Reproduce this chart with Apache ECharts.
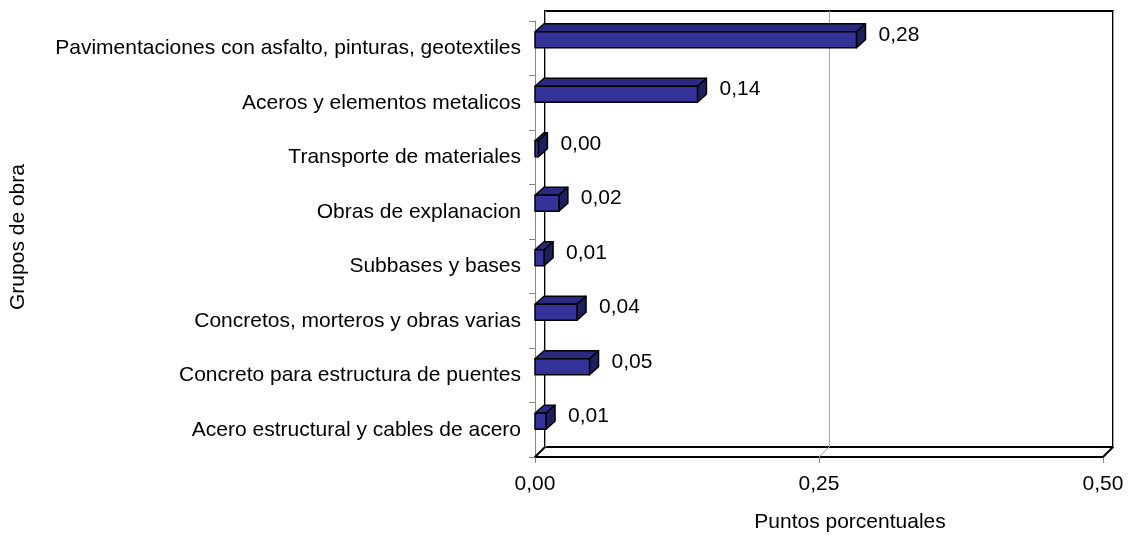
<!DOCTYPE html>
<html>
<head>
<meta charset="utf-8">
<script src="https://cdn.jsdelivr.net/npm/echarts@6/dist/echarts.min.js"></script>
<style>
html,body{margin:0;padding:0;background:#fff;}
#c{width:1130px;height:536px;}
</style>
</head>
<body>
<div id="c"></div>
<script>
const categories = [
  'Pavimentaciones con asfalto, pinturas, geotextiles',
  'Aceros y elementos metalicos',
  'Transporte de materiales',
  'Obras de explanacion',
  'Subbases y bases',
  'Concretos, morteros y obras varias',
  'Concreto para estructura de puentes',
  'Acero estructural y cables de acero'
];
const values = [0.283, 0.143, 0.003, 0.021, 0.008, 0.037, 0.048, 0.0097];
const xTicks = [0, 0.25, 0.5];

const FONT = '"Liberation Sans", Arial, sans-serif';
const FS = 21;
const chart = echarts.init(document.getElementById('c'), null, {renderer:'canvas'});

// frame geometry (front plane and depth offset)
const L = 535, R = 1103, T = 21, B = 457, DX = 10, DY = 10;

const fmt = v => v.toFixed(2).replace('.', ',');

const option = {
  backgroundColor: '#fff',
  animation: false,
  grid: [
    {left: L, right: 1130 - R, top: T, bottom: 536 - B, containLabel: false, outerBoundsMode: 'none'},
    {left: L + DX, right: 1130 - R - DX, top: T - DY, bottom: 536 - B + DY, show: true,
     borderColor: '#000', borderWidth: 2, backgroundColor: 'transparent', containLabel: false, outerBoundsMode: 'none'}
  ],
  xAxis: [
    {type: 'value', gridIndex: 0, min: xTicks[0], max: xTicks[xTicks.length-1], interval: 0.25,
     axisLine: {show: true, lineStyle: {color: '#000', width: 2}},
     axisTick: {show: true, length: 6, lineStyle: {color: '#888', width: 1}},
     axisLabel: {formatter: fmt, fontFamily: FONT, fontSize: FS, color: '#000', margin: 17},
     splitLine: {show: false}},
    {type: 'value', gridIndex: 1, min: xTicks[0], max: xTicks[xTicks.length-1], interval: 0.25,
     axisLine: {show: false}, axisTick: {show: false}, axisLabel: {show: false},
     splitLine: {show: true, lineStyle: {color: '#a8a8a8', width: 1}}}
  ],
  yAxis: [
    {type: 'category', gridIndex: 0, data: categories, inverse: true,
     axisLine: {show: true, lineStyle: {color: '#888', width: 1}},
     axisTick: {show: true, length: 6, lineStyle: {color: '#888', width: 1}},
     axisLabel: {fontFamily: FONT, fontSize: FS, color: '#000', margin: 14},
     splitLine: {show: false}},
    {type: 'category', gridIndex: 1, data: categories, inverse: true, show: false}
  ],
  graphic: [
    {type: 'line', shape: {x1: L, y1: B, x2: L + DX, y2: B - DY}, style: {stroke: '#000', lineWidth: 2}, z: 1},
    {type: 'line', shape: {x1: (L + R) / 2, y1: B, x2: (L + R) / 2 + DX, y2: B - DY}, style: {stroke: '#a8a8a8', lineWidth: 1}, z: 1},
    {type: 'line', shape: {x1: R, y1: B, x2: R + DX, y2: B - DY}, style: {stroke: '#000', lineWidth: 2}, z: 1},
    {type: 'text', x: 850, y: 522,
     style: {text: 'Puntos porcentuales', fontFamily: FONT, fontSize: FS, fill: '#000', align: 'center', verticalAlign: 'middle'}},
    {type: 'text', x: 18, y: 237, rotation: Math.PI / 2,
     style: {text: 'Grupos de obra', fontFamily: FONT, fontSize: FS, fill: '#000', align: 'center', verticalAlign: 'middle'}}
  ],
  series: [{
    type: 'custom',
    xAxisIndex: 0, yAxisIndex: 0,
    clip: false,
    encode: {x: 1, y: 0},
    data: values.map((v, i) => [i, v]),
    renderItem: function (params, api) {
      const cat = api.value(0), val = api.value(1);
      const p0 = api.coord([0, cat]);
      const p1 = api.coord([val, cat]);
      const band = api.size([0, 1])[1];
      const cy = p0[1] - band * 0.156;
      const h = 16, dx = 9, dy = 8;
      const x0 = p0[0], x1 = p1[0];
      const yt = cy - h / 2, yb = cy + h / 2;
      const stroke = {stroke: '#000', lineWidth: 1.5, lineJoin: 'round'};
      return {
        type: 'group',
        children: [
          {type: 'polygon', shape: {points: [[x0, yt], [x1, yt], [x1 + dx, yt - dy], [x0 + dx, yt - dy]]},
           style: Object.assign({fill: '#2a2a80'}, stroke)},
          {type: 'polygon', shape: {points: [[x1, yt], [x1 + dx, yt - dy], [x1 + dx, yb - dy], [x1, yb]]},
           style: Object.assign({fill: '#1f1f5e'}, stroke)},
          {type: 'rect', shape: {x: x0, y: yt, width: Math.max(x1 - x0, 0.5), height: h},
           style: Object.assign({fill: '#333399'}, stroke)},
          {type: 'text', x: x1 + 22, y: cy - 5,
           style: {text: fmt(val), fontFamily: FONT, fontSize: FS, fill: '#000',
                   align: 'left', verticalAlign: 'middle'}}
        ]
      };
    },
    z: 3
  }]
};
chart.setOption(option);
</script>
</body>
</html>
